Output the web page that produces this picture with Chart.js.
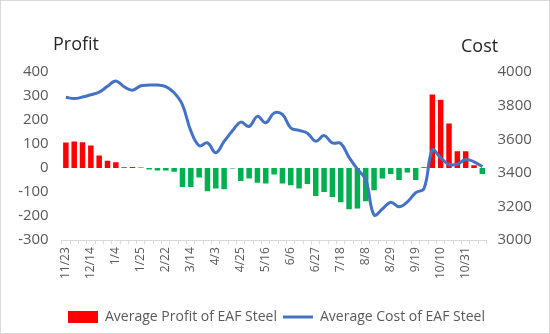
<!DOCTYPE html>
<html>
<head>
<meta charset="utf-8">
<script src="https://cdn.jsdelivr.net/npm/chart.js@4"></script>
<style>
  html, body { margin: 0; padding: 0; background: #fff; }
  #wrap { width: 550px; height: 334px; }
</style>
</head>
<body>
<div id="wrap"><canvas id="myChart"></canvas></div>
<script>
const weeks = ["11/23", "11/30", "12/7", "12/14", "12/21", "12/28", "1/4", "1/11", "1/18", "1/25",
  "2/8", "2/15", "2/22", "2/29", "3/7", "3/14", "3/20", "3/27", "4/3", "4/10",
  "4/17", "4/25", "5/2", "5/9", "5/16", "5/23", "5/30", "6/6", "6/13", "6/20",
  "6/27", "7/4", "7/11", "7/18", "7/25", "8/1", "8/8", "8/15", "8/22", "8/29",
  "9/5", "9/12", "9/19", "9/26", "10/3", "10/10", "10/17", "10/24", "10/31", "11/7", "11/14"];

const profit = [106, 111, 108, 94, 52, 31, 24, 3, 5, 2,
  -6, -10, -10, -15, -79, -79, -39, -96, -85, -88,
  -2, -54, -43, -61, -64, -27, -64, -71, -85, -66,
  -116, -100, -120, -142, -171, -168, -138, -92, -43, -25,
  -50, -18, -50, 3, 306, 284, 186, 70, 70, 12, -25];

const cost = [3850, 3842, 3851, 3865, 3880, 3915, 3947, 3912, 3892, 3918,
  3922, 3922, 3913, 3876, 3805, 3650, 3562, 3578, 3520, 3587,
  3650, 3702, 3676, 3736, 3698, 3756, 3748, 3667, 3653, 3636,
  3588, 3622, 3578, 3575, 3492, 3422, 3360, 3150, 3185, 3226,
  3199, 3228, 3282, 3307, 3536, 3490, 3450, 3452, 3480, 3466, 3437];

const profitTicks = [-300, -200, -100, 0, 100, 200, 300, 400];
const costTicks = [3000, 3200, 3400, 3600, 3800, 4000];

const FONT = "'Open Sans', sans-serif";
const GREY = "#595959";

// white background, outer frame and the two axis captions
const captions = {
  id: "captions",
  beforeDraw(chart) {
    const c = chart.ctx;
    c.save();
    c.fillStyle = "#fff";
    c.fillRect(0, 0, chart.width, chart.height);
    c.restore();
  },
  afterDraw(chart) {
    const c = chart.ctx;
    c.save();
    c.font = "18px " + FONT;
    c.fillStyle = "#262626";
    c.textBaseline = "middle";
    c.textAlign = "left";
    c.fillText("Profit", 53, 45);
    c.fillText("Cost", 461, 47);
    c.strokeStyle = "#d9d9d9";
    c.lineWidth = 1;
    c.strokeRect(0.5, 0.5, chart.width - 1, chart.height - 1);
    c.restore();
  }
};

const ctx = document.getElementById("myChart").getContext("2d");

const myChart = new Chart(ctx, {
  data: {
    labels: weeks,
    datasets: [
      {
        type: "bar",
        label: "Average Profit of EAF Steel",
        data: profit,
        yAxisID: "y",
        backgroundColor: profit.map(v => v >= 0 ? "#ff0000" : "#00b050"),
        borderWidth: 0,
        categoryPercentage: 1,
        barPercentage: 0.66,
        order: 2,
      },
      {
        type: "line",
        label: "Average Cost of EAF Steel",
        data: cost,
        yAxisID: "y1",
        borderColor: "#4472c4",
        backgroundColor: "#4472c4",
        borderWidth: 3,
        pointRadius: 0,
        tension: 0.4,
        order: 1,
      },
    ],
  },
  options: {
    responsive: true,
    maintainAspectRatio: false,
    animation: false,
    layout: { padding: { top: 72, left: 17, right: 14, bottom: 0 } },
    scales: {
      x: {
        offset: true,
        afterFit: s => { s.height += 22; },
        grid: { display: true, drawOnChartArea: false, color: "#d9d9d9", tickLength: 4, offset: true },
        border: { display: true, color: "#d9d9d9" },
        ticks: {
          autoSkip: false,
          maxRotation: 90,
          minRotation: 90,
          padding: 3,
          color: GREY,
          font: { family: FONT, size: 12 },
          callback: function(val, i) { return i % 3 === 0 ? weeks[i] : ""; },
        },
      },
      y: {
        position: "left",
        min: -300,
        max: 400,
        afterBuildTicks: s => { s.ticks = profitTicks.map(v => ({ value: v })); },
        afterFit: s => { s.width = 44.7; },
        grid: { display: false, drawTicks: false },
        border: { display: false },
        ticks: { padding: 13, color: GREY, font: { family: FONT, size: 15 }, callback: v => String(v) },
      },
      y1: {
        position: "right",
        min: 3000,
        max: 4000,
        afterBuildTicks: s => { s.ticks = costTicks.map(v => ({ value: v })); },
        afterFit: s => { s.width = 49.5; },
        grid: { display: false, drawTicks: false },
        border: { display: false },
        ticks: { padding: 11, color: GREY, font: { family: FONT, size: 15 }, callback: v => String(v) },
      },
    },
    plugins: {
      legend: {
        position: "bottom",
        labels: {
          usePointStyle: true,
          pointStyleWidth: 30,
          boxHeight: 12,
          padding: 6,
          color: GREY,
          font: { family: FONT, size: 14 },
          generateLabels: chart => {
            const items = Chart.defaults.plugins.legend.labels.generateLabels(chart);
            items.sort((a, b) => a.datasetIndex - b.datasetIndex);
            items.forEach(it => {
              if (it.datasetIndex === 0) {
                it.pointStyle = "rect";
                it.fillStyle = "#ff0000";
                it.strokeStyle = "#ff0000";
                it.lineWidth = 0;
              } else {
                it.pointStyle = "line";
                it.strokeStyle = "#4472c4";
                it.lineWidth = 3;
              }
            });
            return items;
          },
        },
      },
      tooltip: { enabled: false },
    },
  },
  plugins: [captions],
});
</script>
</body>
</html>
